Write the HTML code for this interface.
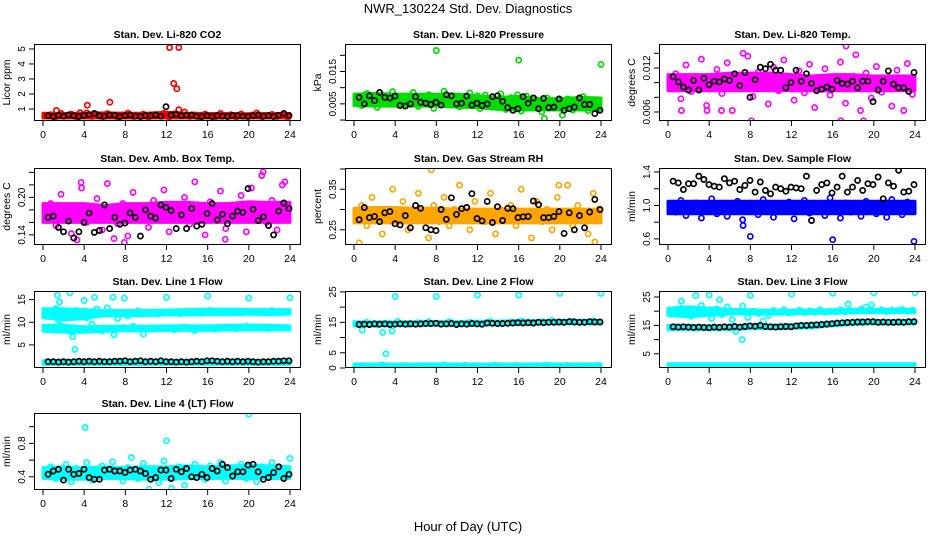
<!DOCTYPE html>
<html><head><meta charset="utf-8"><style>
html,body{margin:0;padding:0;background:#fff;}
svg{display:block;font-family:"Liberation Sans",sans-serif;}
</style></head><body>
<svg id="chart" width="936" height="540" viewBox="0 0 936 540">
<text x="468" y="13" text-anchor="middle" font-size="13">NWR_130224 Std. Dev. Diagnostics</text>
<text x="468" y="531" text-anchor="middle" font-size="13">Hour of Day (UTC)</text>
</svg>
<script>
// ---- data arrays ----
const xTicks=[0,4,8,12,16,20,24];
// CO2
const co2Lo=[0.4,0.4,0.4,0.4,0.4,0.4,0.4,0.4,0.4,0.4,0.4,0.4,0.4];
const co2Hi=[0.72,0.7,0.72,0.74,0.72,0.72,0.78,0.72,0.7,0.7,0.68,0.7,0.7];
const co2Pts=[0.55,0.62,0.48,0.7,0.52,0.66,0.45,0.58,0.74,0.5,0.63,0.47,0.69,0.56,0.42,0.6,0.72,0.49,0.57,0.65,0.44,0.61,0.53,0.71,0.46,0.68,0.55,0.8,0.5,0.6,0.43,0.66,0.58,0.48,0.7,0.54,0.62,0.45,0.67,0.52,0.59,0.73,0.47,0.56,0.64,0.5,0.6,0.45];
const co2Blk=[0.55,0.5,0.58,0.52,0.6,0.55,0.5,0.57,0.62,0.7,0.55,0.52,0.6,0.58,0.5,0.55,0.6,0.52,0.5,0.57,0.55,0.6,0.52,1.15,0.6,0.65,0.55,0.58,0.6,0.52,0.5,0.55,0.5,0.55,0.52,0.5,0.57,0.55,0.52,0.5,0.55,0.6,0.52,0.55,0.5,0.58,0.7,0.55];
const co2Out=[[1.3,0.9],[4.3,1.25],[6.5,1.45],[12.3,5.1],[13.2,5.1],[12.7,2.7],[13,2.35],[3.6,0.75],[13.2,0.95]];
// Pressure
const prLo=[0.0045,0.0043,0.0043,0.0043,0.0043,0.004,0.0038,0.0033,0.0031,0.0031,0.0031,0.0031,0.0031];
const prHi=[0.008,0.0083,0.008,0.008,0.008,0.008,0.0075,0.007,0.0073,0.0066,0.0066,0.007,0.0068];
const prPts=[0.007,0.0045,0.0082,0.0058,0.0039,0.0075,0.0064,0.0088,0.0048,0.0071,0.0055,0.0085,0.0042,0.0068,0.0078,0.0036,0.0062,0.0089,0.005,0.0072,0.0041,0.0066,0.0084,0.0052,0.0035,0.0077,0.0059,0.0046,0.0081,0.0033,0.0069,0.0054,0.0028,0.0074,0.0044,0.0062,0.0025,0.0068,0.0038,0.0057,0.0015,0.0065,0.0031,0.0052,0.0072,0.0029,0.0061,0.0034];
const prBlk=[0.007,0.005,0.0075,0.006,0.0085,0.007,0.0068,0.0074,0.0045,0.0043,0.005,0.0072,0.0055,0.0052,0.0048,0.0055,0.0046,0.0078,0.0075,0.005,0.0052,0.0074,0.0046,0.0052,0.0045,0.005,0.0072,0.0075,0.0058,0.0038,0.003,0.0035,0.0072,0.0052,0.0068,0.0035,0.0067,0.0038,0.004,0.0065,0.003,0.0035,0.004,0.0068,0.0048,0.0048,0.002,0.003];
const prOut=[[8,0.0215],[16,0.0185],[24,0.0172],[18.5,0.0005],[12,0.0075],[15.9,0.0078]];
// Li-820 temp
const tpLo=[0.0089,0.0089,0.0089,0.0089,0.0089,0.0089,0.0089,0.0089,0.0089,0.0089,0.0089,0.0089,0.0089];
const tpHi=[0.0111,0.0111,0.0111,0.0113,0.0113,0.0113,0.0111,0.0109,0.0111,0.0111,0.0109,0.0109,0.0109];
const tpPts=[0.0095,0.0112,0.0078,0.0124,0.0088,0.0105,0.0132,0.0069,0.0099,0.0118,0.0085,0.0127,0.0062,0.0109,0.0093,0.0136,0.0081,0.0114,0.0102,0.0071,0.0121,0.0089,0.0131,0.0097,0.0076,0.0116,0.0086,0.0125,0.0066,0.0104,0.0119,0.0083,0.0107,0.0128,0.0072,0.0098,0.0138,0.0091,0.0113,0.0079,0.0122,0.0087,0.0101,0.0068,0.0117,0.0094,0.0126,0.0084];
const tpBlk=[0.0108,0.0101,0.0094,0.009,0.0103,0.009,0.0106,0.0097,0.0102,0.0101,0.0105,0.0103,0.0112,0.0096,0.0114,0.008,0.0104,0.0121,0.0119,0.0125,0.0117,0.0117,0.0093,0.01,0.0117,0.0102,0.0112,0.0099,0.0089,0.0091,0.0094,0.0091,0.0103,0.0099,0.0098,0.0102,0.0093,0.0102,0.0102,0.0074,0.009,0.0102,0.0116,0.0098,0.0093,0.0093,0.0088,0.0114];
const tpOut=[[8.1,0.0048],[16.8,0.0048],[19,0.0048],[1.3,0.0062],[3.8,0.0062],[5.2,0.0062],[18.7,0.0062],[22.9,0.0062],[17.3,0.015],[7.3,0.014]];
// Amb box temp
const abLo=[0.16,0.16,0.16,0.16,0.16,0.16,0.16,0.16,0.16,0.16,0.16,0.16,0.16];
const abHi=[0.19,0.19,0.19,0.187,0.19,0.19,0.192,0.192,0.19,0.19,0.193,0.192,0.192];
const abPts=[0.17,0.19,0.155,0.205,0.165,0.142,0.185,0.215,0.16,0.178,0.198,0.148,0.222,0.172,0.158,0.19,0.138,0.208,0.168,0.182,0.152,0.195,0.175,0.212,0.145,0.188,0.163,0.2,0.157,0.225,0.18,0.14,0.193,0.17,0.21,0.15,0.187,0.165,0.203,0.145,0.215,0.175,0.235,0.16,0.195,0.148,0.22,0.18];
const abBlk=[0.168,0.17,0.152,0.145,0.162,0.135,0.145,0.16,0.175,0.144,0.147,0.188,0.15,0.168,0.157,0.159,0.175,0.168,0.138,0.18,0.17,0.167,0.188,0.184,0.179,0.15,0.172,0.15,0.182,0.154,0.157,0.174,0.19,0.164,0.173,0.158,0.17,0.178,0.176,0.214,0.181,0.163,0.169,0.155,0.14,0.178,0.191,0.182];
const abOut=[[7.9,0.128],[3.3,0.132],[21.4,0.241],[3.7,0.224],[23.5,0.225],[17.7,0.133],[6.9,0.134]];
// Gas stream RH
const rhLo=[0.267,0.267,0.267,0.267,0.267,0.267,0.267,0.267,0.267,0.267,0.267,0.267,0.267];
const rhHi=[0.303,0.305,0.305,0.303,0.303,0.301,0.301,0.301,0.301,0.301,0.301,0.301,0.301];
const rhPts=[0.29,0.31,0.26,0.33,0.28,0.24,0.3,0.35,0.27,0.32,0.25,0.29,0.34,0.28,0.23,0.31,0.27,0.33,0.26,0.3,0.36,0.28,0.25,0.32,0.29,0.27,0.34,0.24,0.3,0.28,0.31,0.26,0.35,0.29,0.23,0.32,0.27,0.3,0.25,0.33,0.28,0.36,0.26,0.31,0.29,0.24,0.34,0.3];
const rhBlk=[0.275,0.305,0.28,0.283,0.27,0.292,0.295,0.265,0.262,0.285,0.255,0.31,0.303,0.255,0.25,0.248,0.3,0.276,0.329,0.288,0.302,0.305,0.339,0.278,0.272,0.32,0.268,0.307,0.273,0.303,0.302,0.28,0.282,0.283,0.321,0.312,0.28,0.28,0.283,0.295,0.241,0.292,0.25,0.285,0.255,0.294,0.325,0.3];
const rhOut=[[7.5,0.398],[0.5,0.218],[23.4,0.22],[19.9,0.36]];
// Sample flow
const sfLo=[0.9,0.9,0.9,0.9,0.9,0.9,0.9,0.9,0.9,0.9,0.9,0.9,0.9];
const sfHi=[1.05,1.05,1.05,1.05,1.05,1.05,1.05,1.05,1.05,1.05,1.05,1.05,1.05];
const sfPts=[1.0,0.92,1.06,0.88,0.97,1.03,0.85,0.95,1.08,0.9,1.01,0.87,0.98,1.05,0.83,0.94,1.02,0.89,1.07,0.96,0.86,1.0,0.93,1.04,0.84,0.99,1.06,0.91,0.95,1.02,0.88,1.09,0.97,0.85,1.03,0.92,1.0,0.87,1.05,0.94,0.9,1.01,0.86,1.07,0.96,0.89,1.04,0.93];
const sfBlk=[1.29,1.27,1.19,1.26,1.26,1.35,1.31,1.25,1.23,1.22,1.32,1.27,1.29,1.19,1.24,1.3,1.16,1.28,1.18,1.14,1.22,1.2,1.17,1.22,1.21,1.2,1.35,0.82,1.18,1.25,1.27,1.15,1.22,1.35,1.16,1.22,1.3,1.18,1.26,1.25,1.34,1.08,1.27,1.23,1.42,1.16,1.17,1.25];
const sfOut=[[8,0.63],[16,0.59],[23.9,0.57],[7.3,0.76]];
// Line 1 flow
const l1LoA=[11,10.5,10.8,11.5,11.4,11.5,11.6,11.6,11.7,11.7,11.8,11.7,11.8];
const l1HiA=[13,13,12.8,12.6,12.6,12.6,12.7,12.8,12.9,12.9,12.8,12.8,12.8];
const l1LoB=[8,7.8,7.8,8,8.1,8.1,8.2,8.2,8.2,8.3,8.3,8.3,8.3];
const l1HiB=[9.3,9.3,9,9.1,9.1,9.1,9.2,9.2,9.2,9.3,9.4,9.3,9.2];
const l1LoC=[0.7,0.7,0.7,0.7,0.7,0.7,0.7,0.7,0.7,0.7,0.7,0.7,0.7];
const l1HiC=[1.5,1.5,1.5,1.5,1.5,1.5,1.5,1.5,1.5,1.5,1.5,1.5,1.5];
const l1Pts=[12.2,8.6,13,9.2,11.5,7.9,12.6,8.3,11,9.6,12.9,8.1,13.2,12,10.8,8.8,11.4,9.1,12.5,7.4,12.1,8.5,11.8,8.7,12.3,8.4,11.9,8.9,12.4,8.2,12,8.8,12.6,8.5,12.2,8.7,12.5,8.6,12.1,9.1,12.4,8.8,12.3,8.6,12.6,8.9,12.2,8.7];
const l1Blk=[1.3,1.3,1.2,1.3,1.2,1.3,1.4,1.3,1.4,1.3,1.4,1.3,1.3,1.4,1.4,1.5,1.3,1.4,1.5,1.3,1.4,1.3,1.5,1.3,1.3,1.2,1.3,1.2,1.3,1.4,1.3,1.5,1.5,1.4,1.3,1.4,1.3,1.4,1.3,1.4,1.3,1.2,1.3,1.3,1.4,1.4,1.5,1.5];
const l1Out=[[1.4,16],[2.6,16.5],[3.1,4],[2.9,6.8],[4,14.8],[5,15.5],[6.8,15.5],[7.9,15.3],[12,15.5],[16,15.8],[20,15.3],[24,15.4],[1.6,14.5],[6.9,7.2],[1.5,10.5]];
// Line 2 flow
const l2LoA=[13.8,13.9,14,14,14.1,14.1,14.2,14.3,14.4,14.5,14.5,14.5,14.5];
const l2HiA=[15.2,15.2,15.2,15.3,15.3,15.3,15.4,15.4,15.6,15.6,15.6,15.6,15.6];
const l2LoB=[0.3,0.3,0.3,0.3,0.3,0.3,0.3,0.3,0.3,0.3,0.3,0.3,0.3];
const l2HiB=[1.3,1.3,1.3,1.3,1.3,1.3,1.3,1.3,1.3,1.3,1.3,1.3,1.3];
const l2Pts=[14.5,0.8,15,0.6,14.2,1,14.8,0.7,15.3,0.9,14.4,0.5,14.9,0.8,15.1,0.7,14.6,1,15.2,0.6,14.7,0.9,15,0.8,14.5,0.7,15.3,1,14.8,0.6,15.1,0.9,15.4,0.7,14.9,0.8,15.2,1,15.6,0.6,15.1,0.9,15.4,0.7,15.2,0.8,15.5,0.9];
const l2Blk=[14.3,14.4,14.3,14.5,14.4,14.5,14.3,14.4,14.5,14.4,14.5,14.4,14.5,14.6,14.6,14.7,14.4,14.5,14.6,14.3,14.5,14.4,14.6,14.5,14.4,14.8,14.7,14.6,14.6,14.7,14.8,14.9,14.8,14.9,14.8,15,14.9,15,15,15.1,15,15.2,15.1,15,15,15.2,15.1,15.1];
const l2Out=[[4,23.5],[8,23.5],[12,24],[16,24],[20,24.5],[24,24.5],[0.8,12.5],[2.8,11.7],[3.1,4.7],[3.7,12.2]];
// Line 3 flow
const l3LoA=[18.5,18,18.5,19,19,19,19,19.2,19.3,19.4,19.5,19.5,19.5];
const l3HiA=[21,21.5,21,20.7,20.5,20.3,20.3,20.4,20.5,20.6,20.6,20.6,20.5];
const l3LoB=[13.5,13.5,13.5,13.5,13.8,13.8,14,14.2,14.8,15.3,15.5,15.5,15.5];
const l3HiB=[15,15,14.8,14.8,15.2,15.1,15.3,15.6,16.1,16.5,16.6,16.6,16.6];
const l3LoC=[0.5,0.5,0.5,0.5,0.5,0.5,0.5,0.5,0.5,0.5,0.5,0.5,0.5];
const l3HiC=[1.5,1.5,1.5,1.5,1.5,1.5,1.5,1.5,1.5,1.5,1.5,1.5,1.5];
const l3Pts=[19,14.5,21,20.5,18.2,14,22,19.5,17.5,20.8,18.8,21.5,17,19.8,21.8,17.8,20,19.2,16.5,18.5,20.2,19.6,20.5,19.4,19.8,20.3,19.5,20.1,19.6,20.4,19.7,20,19.9,20.5,19.8,20.2,20,20.6,21.5,22.2,20.1,20.4,19.9,20.3,20.2,20.6,20,20.3];
const l3Blk=[14.5,14.4,14.5,14.4,14.3,14.4,14.3,14.2,14.4,14.3,14.5,14.4,14.6,14.4,14.6,14.8,14.7,15,14.6,14.5,14.4,14.5,14.6,14.5,14.8,15,15,15.1,15.2,15.3,15.5,15.6,15.8,15.9,16,16.1,16.2,16.2,16.3,16.3,16.1,16.2,16.1,16.1,16.2,16.1,16.3,16.3];
const l3Out=[[1.3,23.5],[2.7,25.5],[4,25.7],[8,25.5],[12,26],[16,26.3],[20,26.5],[24,26.5],[7.2,10],[5,24],[6.6,12.8],[17.5,22.5]];
// Line 4 flow
const l4Lo=[0.38,0.37,0.37,0.38,0.38,0.37,0.37,0.38,0.38,0.38,0.38,0.38,0.38];
const l4Hi=[0.51,0.52,0.51,0.52,0.51,0.52,0.52,0.53,0.52,0.53,0.54,0.53,0.52];
const l4Pts=[0.45,0.52,0.38,0.48,0.55,0.34,0.5,0.42,0.57,0.36,0.47,0.53,0.4,0.58,0.44,0.35,0.51,0.46,0.38,0.56,0.43,0.5,0.33,0.59,0.45,0.39,0.52,0.3,0.48,0.55,0.41,0.37,0.53,0.46,0.57,0.35,0.5,0.43,0.55,0.38,0.47,0.34,0.52,0.44,0.57,0.4,0.5,0.46];
const l4Blk=[0.43,0.47,0.49,0.36,0.49,0.43,0.44,0.49,0.39,0.37,0.37,0.48,0.49,0.47,0.47,0.45,0.48,0.49,0.47,0.44,0.37,0.39,0.48,0.48,0.38,0.49,0.46,0.5,0.4,0.39,0.43,0.39,0.5,0.47,0.55,0.51,0.41,0.46,0.46,0.54,0.55,0.46,0.37,0.39,0.45,0.52,0.38,0.43];
const l4Out=[[4.1,0.99],[12,0.83],[20,1.15],[8.6,0.63],[24,0.62],[12.5,0.26],[10.3,0.25]];

// ---- rendering ----
const NS='http://www.w3.org/2000/svg';
const svg=document.getElementById('chart');
function mk(tag,attrs,parent){const e=document.createElementNS(NS,tag);for(const k in attrs)e.setAttribute(k,attrs[k]);(parent||svg).appendChild(e);return e;}
const colL=[34,345,659], rowT=[44,168,291,413], W=267, H=77;
const panels=[
 {c:0,r:0,title:'Stan. Dev. Li-820 CO2',yl:'Licor ppm',dom:[0.2,5.33],ticks:[1,2,3,4,5],labs:['1','2','3','4','5'],col:'#ff0000',bands:[[co2Lo,co2Hi]],pts:co2Pts,blk:co2Blk,out:co2Out,name:'co2'},
 {c:1,r:0,title:'Stan. Dev. Li-820 Pressure',yl:'kPa',dom:[-0.0003,0.0235],ticks:[0,0.005,0.01,0.015,0.02],labs:['','0.005','','0.015',''],col:'#00dd00',bands:[[prLo,prHi]],pts:prPts,blk:prBlk,out:prOut,name:'pressure'},
 {c:2,r:0,title:'Stan. Dev. Li-820 Temp.',yl:'degrees C',dom:[0.00477,0.01527],ticks:[0.006,0.008,0.01,0.012,0.014],labs:['0.006','','','0.012',''],col:'#ff00ff',bands:[[tpLo,tpHi]],pts:tpPts,blk:tpBlk,out:tpOut,name:'li820-temp'},
 {c:0,r:1,title:'Stan. Dev. Amb. Box Temp.',yl:'degrees C',dom:[0.1238,0.247],ticks:[0.14,0.16,0.18,0.2,0.22,0.24],labs:['0.14','','','0.20','',''],col:'#ff00ff',bands:[[abLo,abHi]],pts:abPts,blk:abBlk,out:abOut,name:'amb-box-temp'},
 {c:1,r:1,title:'Stan. Dev. Gas Stream RH',yl:'percent',dom:[0.2125,0.4025],ticks:[0.25,0.3,0.35,0.4],labs:['0.25','','0.35',''],col:'#ffa500',bands:[[rhLo,rhHi]],pts:rhPts,blk:rhBlk,out:rhOut,name:'gas-stream-rh'},
 {c:2,r:1,title:'Stan. Dev. Sample Flow',yl:'ml/min',dom:[0.527,1.448],ticks:[0.6,0.8,1.0,1.2,1.4],labs:['0.6','','1.0','','1.4'],col:'#0000ff',bands:[[sfLo,sfHi]],pts:sfPts,blk:sfBlk,out:sfOut,name:'sample-flow'},
 {c:0,r:2,title:'Stan. Dev. Line 1 Flow',yl:'ml/min',dom:[-0.1,16.9],ticks:[5,10,15],labs:['5','10','15'],col:'#00ffff',bands:[[l1LoA,l1HiA],[l1LoB,l1HiB],[l1LoC,l1HiC]],pts:l1Pts,blk:l1Blk,out:l1Out,name:'line1-flow'},
 {c:1,r:2,title:'Stan. Dev. Line 2 Flow',yl:'ml/min',dom:[0,25.3],ticks:[0,5,10,15,20,25],labs:['0','5','','15','','25'],col:'#00ffff',bands:[[l2LoA,l2HiA],[l2LoB,l2HiB]],pts:l2Pts,blk:l2Blk,out:l2Out,name:'line2-flow'},
 {c:2,r:2,title:'Stan. Dev. Line 3 Flow',yl:'ml/min',dom:[0,27.1],ticks:[5,10,15,20,25],labs:['5','','15','','25'],col:'#00ffff',bands:[[l3LoA,l3HiA],[l3LoB,l3HiB],[l3LoC,l3HiC]],pts:l3Pts,blk:l3Blk,out:l3Out,name:'line3-flow'},
 {c:0,r:3,title:'Stan. Dev. Line 4 (LT) Flow',yl:'ml/min',dom:[0.242,1.164],ticks:[0.4,0.6,0.8,1.0],labs:['0.4','','0.8',''],col:'#00ffff',bands:[[l4Lo,l4Hi]],pts:l4Pts,blk:l4Blk,out:l4Out,name:'line4-flow'}
];
panels.forEach(p=>{
 const L=colL[p.c], T=rowT[p.r];
 const g=mk('g',{});
 
 
 const xs=h=>L+9+h*247/24;
 const ys=v=>T+H-(v-p.dom[0])/(p.dom[1]-p.dom[0])*H;
 const clip='clip-'+p.name;
 const cp=mk('clipPath',{id:clip},g); mk('rect',{x:L,y:T,width:W,height:H},cp);
 const plot=mk('g',{'clip-path':'url(#'+clip+')'},g);
 p.bands.forEach(b=>{
  const lo=b[0],hi=b[1];let d='';
  hi.forEach((v,i)=>{d+=(i?'L':'M')+xs(i*2).toFixed(1)+','+ys(v).toFixed(1);});
  for(let i=lo.length-1;i>=0;i--)d+='L'+xs(i*2).toFixed(1)+','+ys(lo[i]).toFixed(1);
  const band=mk('path',{d:d+'Z',fill:p.col,stroke:p.col,'stroke-width':3,'stroke-linejoin':'round'},plot);
  
  
 });
 const dot=(h,v,color,nm)=>{const c=mk('circle',{cx:xs(h).toFixed(1),cy:ys(v).toFixed(1),r:2.6,fill:'none',stroke:color,'stroke-width':1.7},plot);
  
  };
 p.pts.forEach((v,i)=>dot(0.25+i*0.5,v,p.col,p.name+'-point'));
 p.out.forEach(o=>dot(o[0],o[1],p.col,p.name+'-outlier'));
 p.blk.forEach((v,i)=>dot(0.5+i*23.4/47,v,'#000',p.name+'-hourly-point'));
 const box=mk('rect',{x:L+0.5,y:T+0.5,width:W-1,height:H-1,fill:'none',stroke:'#000','stroke-width':1},g);
 
 
 xTicks.forEach(t=>{const x=xs(t);mk('line',{x1:x,x2:x,y1:T+H,y2:T+H+5,stroke:'#000'},g);
  const tx=mk('text',{x:x,y:T+H+17,'text-anchor':'middle','font-size':10.5},g);tx.textContent=t;
  
  });
 p.ticks.forEach((t,i)=>{const y=ys(t);if(y<T-1||y>T+H+4)return;mk('line',{x1:L-5,x2:L,y1:y,y2:y,stroke:'#000'},g);
  if(p.labs[i]){const tx=mk('text',{x:0,y:0,'text-anchor':'middle','font-size':10,transform:'translate('+(L-9)+','+y.toFixed(1)+') rotate(-90)'},g);tx.textContent=p.labs[i];
  
  }});
 const yl=mk('text',{x:0,y:0,'text-anchor':'middle','font-size':10.5,transform:'translate('+(L-24)+','+(T+H/2)+') rotate(-90)'},g);yl.textContent=p.yl;
 
 
 const ti=mk('text',{x:L+W/2,y:T-6,'text-anchor':'middle','font-size':10.5,'font-weight':'bold'},g);ti.textContent=p.title;
 
 
});
</script>
</body></html>
